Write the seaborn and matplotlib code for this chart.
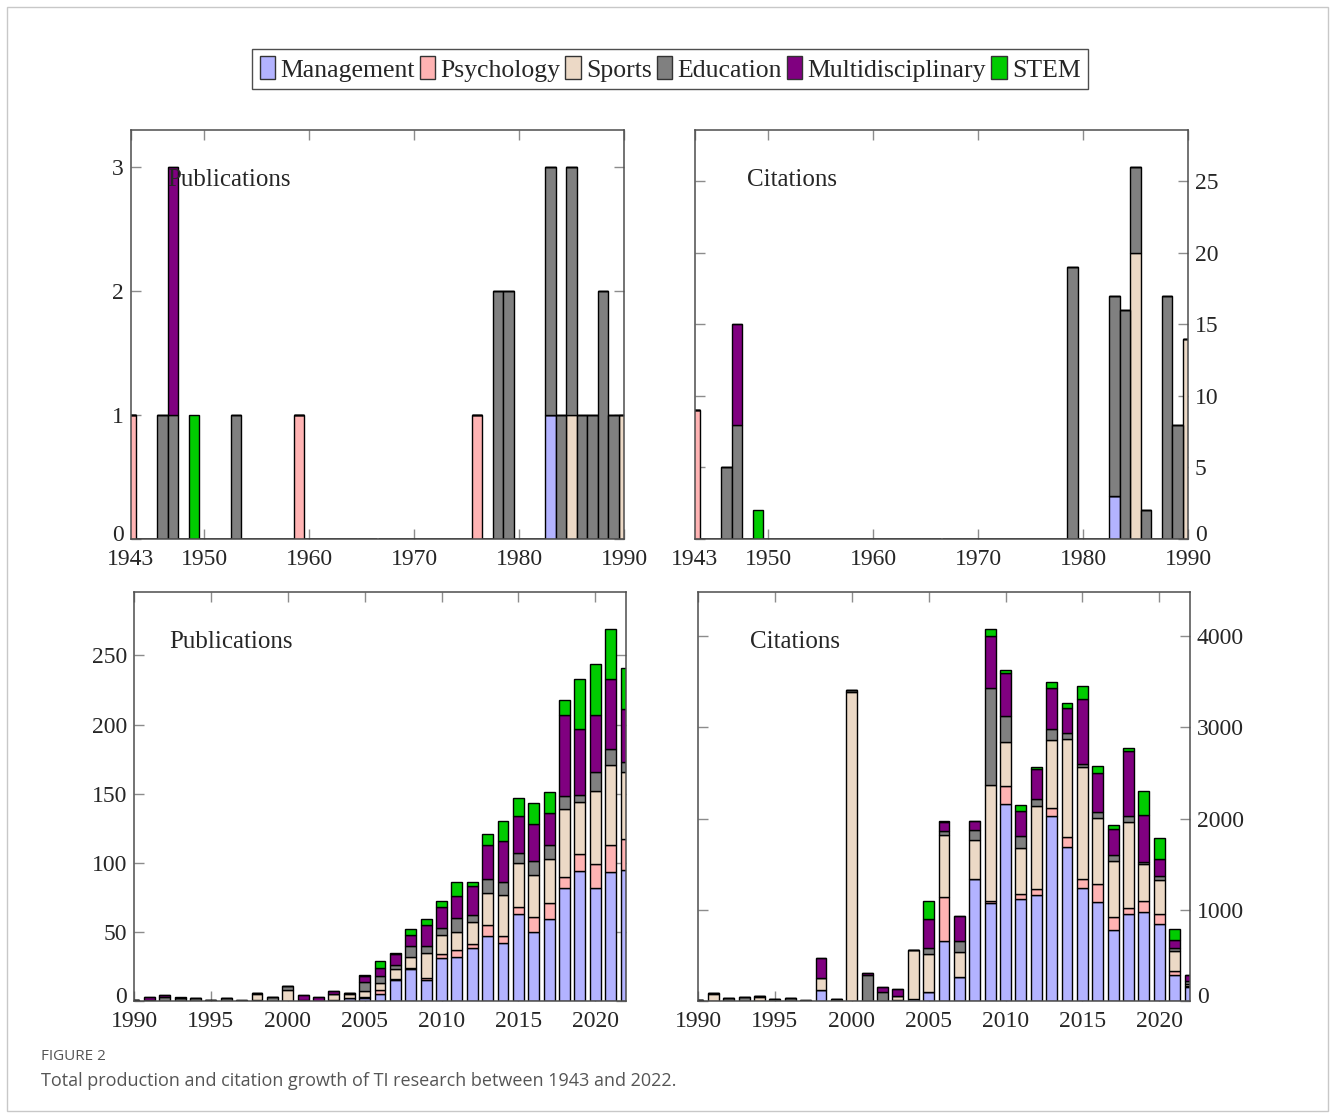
import matplotlib
matplotlib.use("Agg")
import matplotlib.pyplot as plt
import matplotlib.transforms as mtransforms
from matplotlib.patches import Patch, Rectangle
import pandas as pd
import seaborn as sns

# ---------------------------------------------------------------- data
CATEGORIES = ["Management", "Psychology", "Sports", "Education",
              "Multidisciplinary", "STEM"]
COLORS = ["#b3b3ff", "#ffb3b3", "#ecd9c6", "#808080", "#800080", "#00cc00"]

EARLY_YEARS = list(range(1943, 1991))
EARLY_TICKS = [1943, 1950, 1960, 1970, 1980, 1990]
LATE_YEARS = list(range(1990, 2023))
LATE_TICKS = [1990, 1995, 2000, 2005, 2010, 2015, 2020]

# 1943-1990 is sparse: year -> value (missing years are zero)
early_pubs = {
    "Management": {1983: 1},
    "Psychology": {1943: 1, 1959: 1, 1976: 1},
    "Sports": {1985: 1, 1990: 1},
    "Education": {1946: 1, 1947: 1, 1953: 1, 1978: 2, 1979: 2, 1983: 2,
                  1984: 1, 1985: 2, 1986: 1, 1987: 1, 1988: 2, 1989: 1},
    "Multidisciplinary": {1947: 2},
    "STEM": {1949: 1},
}
early_cites = {
    "Management": {1983: 3},
    "Psychology": {1943: 9},
    "Sports": {1985: 20, 1990: 14},
    "Education": {1946: 5, 1947: 8, 1979: 19, 1983: 14, 1984: 16, 1985: 6,
                  1986: 2, 1988: 17, 1989: 8},
    "Multidisciplinary": {1947: 7},
    "STEM": {1949: 2},
}

# 1990-2022 publications per category
pubs_management = [0, 0, 0, 0, 0, 0, 0, 0, 1, 0, 0, 0, 0, 1, 2, 2, 5, 15, 23,
                   15, 31, 32, 38, 47, 42, 63, 50, 59, 82, 94, 82, 93, 95]
pubs_psychology = [0, 0, 0, 0, 0, 0, 0, 0, 0, 0, 0, 0, 0, 0, 0, 1, 3, 1, 1,
                   2, 3, 5, 3, 8, 5, 5, 11, 12, 8, 12, 17, 20, 22]
pubs_sports = [1, 0, 0, 0, 0, 0, 0, 0, 4, 0, 8, 0, 0, 4, 3, 4, 5, 7, 8,
               18, 14, 13, 16, 23, 30, 32, 30, 32, 49, 38, 53, 58, 49]
pubs_education = [0, 1, 3, 2, 2, 1, 2, 0, 1, 3, 3, 1, 0, 0, 1, 7, 5, 3, 8,
                  5, 5, 10, 5, 10, 9, 7, 10, 10, 9, 5, 14, 11, 7]
pubs_multi = [0, 2, 1, 0, 0, 0, 0, 1, 0, 0, 0, 3, 3, 2, 0, 4, 6, 8, 8,
              15, 15, 16, 21, 25, 30, 27, 27, 23, 59, 48, 41, 51, 38]
pubs_stem = [0, 0, 0, 1, 0, 0, 0, 0, 0, 0, 0, 0, 0, 0, 0, 1, 5, 1, 4,
             4, 4, 10, 3, 8, 14, 13, 15, 15, 11, 36, 37, 36, 30]

# 1990-2022 citations per category
cites_management = [0, 0, 0, 0, 0, 0, 0, 0, 120, 0, 0, 0, 0, 15, 20, 95, 655,
                    258, 1342, 1080, 2157, 1116, 1166, 2033, 1692, 1235, 1081,
                    778, 953, 975, 840, 283, 150]
cites_psychology = [0, 0, 0, 0, 0, 0, 0, 0, 0, 0, 0, 0, 0, 0, 0, 5, 485,
                    0, 0, 20, 198, 52, 62, 88, 103, 99, 206,
                    142, 70, 125, 117, 44, 10]
cites_sports = [14, 80, 0, 0, 40, 0, 0, 0, 130, 0, 3390, 0, 0, 40, 540, 420,
                685, 274, 427, 1265, 490, 505, 911, 739, 1075, 1237, 717,
                615, 944, 406, 366, 224, 30]
cites_education = [0, 8, 38, 45, 15, 18, 30, 0, 0, 25, 25, 285, 95, 0, 0, 60,
                   35, 125, 109, 1072, 280, 139, 73, 124, 70, 29, 66,
                   62, 62, 18, 44, 29, 25]
cites_multi = [0, 0, 0, 0, 0, 0, 0, 8, 220, 0, 0, 20, 60, 75, 0, 322, 100,
               271, 92, 563, 476, 275, 336, 453, 278, 710, 428,
               293, 710, 520, 194, 91, 65]
cites_stem = [0, 0, 0, 0, 0, 0, 0, 0, 0, 0, 0, 0, 0, 0, 0, 190, 15,
              0, 0, 77, 26, 66, 19, 66, 51, 146, 80,
              36, 36, 256, 223, 117, 0]

late_pubs = dict(zip(CATEGORIES, [pubs_management, pubs_psychology, pubs_sports,
                                  pubs_education, pubs_multi, pubs_stem]))
late_cites = dict(zip(CATEGORIES, [cites_management, cites_psychology,
                                   cites_sports, cites_education, cites_multi,
                                   cites_stem]))


def long_table(years, series):
    rows = []
    for cat in CATEGORIES:
        vals = series[cat]
        for i, yr in enumerate(years):
            v = vals.get(yr, 0) if isinstance(vals, dict) else vals[i]
            rows.append((yr, cat, v))
    return pd.DataFrame(rows, columns=["year", "category", "value"])


# ---------------------------------------------------------------- style
sns.set_theme(style="ticks")
plt.rcParams["font.family"] = ["Liberation Serif", "DejaVu Serif"]
plt.rcParams["axes.edgecolor"] = "#4d4d4d"
plt.rcParams["axes.linewidth"] = 1.1

palette = dict(zip(CATEGORIES, COLORS))

fig = plt.figure(figsize=(13.3, 11.15), dpi=100)
W, H = 1330, 1115


def px_axes(left, top, right, bottom):
    return fig.add_axes([left / W, 1 - bottom / H, (right - left) / W,
                         (bottom - top) / H])


def draw_panel(ax, df, shrink, xlim, xticks, yticks, title, title_x, right):
    sns.histplot(data=df, x="year", weights="value", hue="category",
                 hue_order=CATEGORIES[::-1], palette=palette,
                 multiple="stack", discrete=True, shrink=shrink, alpha=1,
                 edgecolor="black", linewidth=1.0, legend=False, ax=ax)
    totals = df.groupby("year")["value"].sum()
    ax.set_xlim(*xlim)
    ax.set_ylim(0, totals.max() * 1.1)
    ax.set_xticks(xticks)
    ax.set_yticks(yticks)
    ax.set_xlabel("")
    ax.set_ylabel("")
    ax.tick_params(axis="both", direction="in", length=7, width=1,
                   color="#8c8c8c", labelsize=17, top=True, right=True,
                   left=True, bottom=True)
    ax.tick_params(axis="x", pad=7)
    ax.tick_params(axis="y", pad=5)
    if right:
        ax.tick_params(axis="y", labelleft=False, labelright=True)
    # lift the "0" label a touch so it clears the corner year label
    lift = mtransforms.ScaledTranslation(0, 4 / 72, fig.dpi_scale_trans)
    zero_tick = ax.yaxis.get_major_ticks()[0]
    for lab in (zero_tick.label1, zero_tick.label2):
        lab.set_transform(lab.get_transform() + lift)
    for sp in ax.spines.values():
        sp.set_visible(True)
        sp.set_color("#4d4d4d")
    ax.text(title_x, 0.878, title, transform=ax.transAxes, fontsize=18,
            ha="left", va="center", zorder=10)


ax_tl = px_axes(131, 130, 624, 539)
ax_tr = px_axes(695, 130, 1188, 539)
ax_bl = px_axes(134, 592, 626, 1001)
ax_br = px_axes(698, 592, 1190, 1001)

draw_panel(ax_tl, long_table(EARLY_YEARS, early_pubs), 1.0, (1943, 1990),
           EARLY_TICKS, [0, 1, 2, 3], "Publications", 0.073, False)
draw_panel(ax_tr, long_table(EARLY_YEARS, early_cites), 1.0, (1943, 1990),
           EARLY_TICKS, [0, 5, 10, 15, 20, 25], "Citations", 0.105, True)
draw_panel(ax_bl, long_table(LATE_YEARS, late_pubs), 0.7, (1990, 2022),
           LATE_TICKS, [0, 50, 100, 150, 200, 250], "Publications", 0.071,
           False)
draw_panel(ax_br, long_table(LATE_YEARS, late_cites), 0.7, (1990, 2022),
           LATE_TICKS, [0, 1000, 2000, 3000, 4000], "Citations", 0.105, True)

# shared legend across the top
handles = [Patch(facecolor=c, edgecolor="#333333", linewidth=1.0, label=n)
           for n, c in zip(CATEGORIES, COLORS)]
leg = fig.legend(handles=handles, ncol=6, loc="center",
                 bbox_to_anchor=(670 / W, 1 - 69 / H), fontsize=18.5,
                 frameon=True, fancybox=False, edgecolor="#222222",
                 handlelength=0.6, handleheight=1.0, handletextpad=0.2,
                 columnspacing=0.2, borderpad=0.3, borderaxespad=0)
leg.get_frame().set_linewidth(1.0)

# caption
fig.text(41 / W, 1 - 1057 / H, "FIGURE 2", fontsize=11, color="#555555",
         family=["Open Sans", "DejaVu Sans"], ha="left", va="center")
fig.text(41 / W, 1 - 1081 / H,
         "Total production and citation growth of TI research between 1943 and 2022.",
         fontsize=13, color="#555555", family=["Open Sans", "DejaVu Sans"],
         ha="left", va="center")

# thin frame around the whole figure
fig.add_artist(Rectangle((7 / W, 4 / H), (1328 - 7) / W, (1108 - 4) / H,
                         transform=fig.transFigure, fill=False,
                         edgecolor="#c8c8c8", linewidth=1.0))

fig.savefig("out.png", dpi=100, facecolor="white")
